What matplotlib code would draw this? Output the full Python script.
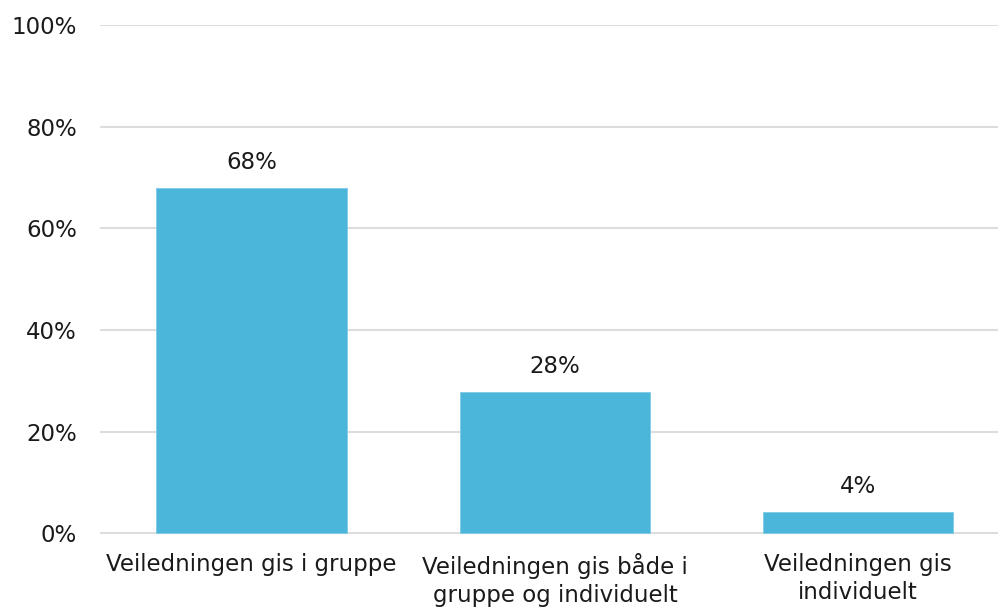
import matplotlib.pyplot as plt

categories = ["Veiledningen gis i gruppe",
              "Veiledningen gis både i\ngruppe og individuelt",
              "Veiledningen gis\nindividuelt"]
values = [68.0, 27.8, 4.3]
labels = ["68%", "28%", "4%"]
yticks = [0, 20, 40, 60, 80, 100]

plt.rcParams['font.family'] = ['DejaVu Sans']

fig = plt.figure(figsize=(9.98, 6.07), dpi=100)
W, H = 998, 607
ax = fig.add_axes([100 / W, 72.5 / H, (998 - 100) / W, (534.5 - 25) / H])

x = range(len(categories))
bars = ax.bar(x, values, width=0.628, color='#4cb6da', edgecolor='#7fcbe6', linewidth=0.6, zorder=2)

for b, lab in zip(bars, labels):
    ax.annotate(lab, (b.get_x() + b.get_width() / 2, b.get_height()),
                xytext=(0, 10), textcoords='offset points',
                ha='center', va='bottom', fontsize=16.5, color='#1a1a1a')

ax.set_xlim(-0.5, (998 - 100) / 303.3 - 0.5)
ax.set_ylim(-0.2, 100)
ax.set_yticks(yticks)
ax.set_yticklabels([f"{t}%" for t in yticks])
ax.set_xticks(list(x))
ax.set_xticklabels(categories, linespacing=1.3)
ax.tick_params(axis='both', length=0, labelsize=16.5, colors='#1a1a1a')
ax.tick_params(axis='y', pad=16.5)
ax.tick_params(axis='x', pad=13)
for lab in ax.get_yticklabels():
    lab.set_horizontalalignment('right')

ax.yaxis.grid(True, color='#dddddd', linewidth=1.5, zorder=0)
ax.set_axisbelow(True)
for s in ax.spines.values():
    s.set_visible(False)

fig.savefig('out.png', dpi=100)
